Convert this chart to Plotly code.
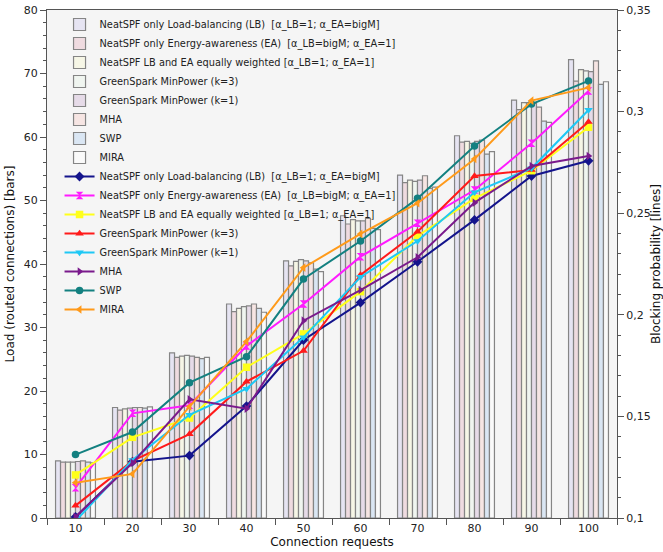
import plotly.graph_objects as go

categories = [10, 20, 30, 40, 50, 60, 70, 80, 90, 100]

names = [
    "NeatSPF only Load-balancing (LB)  [α_LB=1; α_EA=bigM]",
    "NeatSPF only Energy-awareness (EA)  [α_LB=bigM; α_EA=1]",
    "NeatSPF LB and EA equally weighted [α_LB=1; α_EA=1]",
    "GreenSpark MinPower (k=3)",
    "GreenSpark MinPower (k=1)",
    "MHA",
    "SWP",
    "MIRA",
]

# Load (routed connections) - bars, left axis
load_lb = [9.0, 17.4, 26.0, 33.7, 40.5, 47.6, 54.0, 60.2, 65.8, 72.2]
load_ea = [8.8, 17.0, 25.3, 32.5, 39.7, 46.3, 52.8, 59.2, 64.3, 68.8]
load_eq = [8.8, 17.2, 25.5, 33.0, 40.4, 47.0, 53.2, 59.3, 65.4, 70.6]
load_gs3 = [8.8, 17.3, 25.6, 33.3, 40.7, 46.8, 53.0, 59.0, 65.4, 70.4]
load_gs1 = [8.9, 17.4, 25.5, 33.4, 40.5, 46.8, 53.2, 59.3, 65.3, 70.3]
load_mha = [9.0, 17.4, 25.3, 33.7, 40.2, 47.2, 53.9, 59.5, 64.7, 72.0]
load_swp = [8.8, 17.3, 25.1, 33.0, 39.2, 45.6, 51.9, 57.3, 62.5, 68.3]
load_mira = [8.7, 17.5, 25.3, 32.4, 38.8, 45.4, 52.1, 57.7, 62.3, 68.7]

# Blocking probability - lines, right axis
block_lb = [0.1005, 0.1277, 0.1307, 0.1551, 0.1876, 0.2060, 0.2261, 0.2467, 0.2683, 0.2758]
block_ea = [0.1149, 0.1515, 0.1555, 0.1846, 0.2053, 0.2286, 0.2450, 0.2614, 0.2844, 0.3101]
block_eq = [0.1212, 0.1397, 0.1492, 0.1742, 0.1906, 0.2114, 0.2388, 0.2573, 0.2709, 0.2923]
block_gs3 = [0.1061, 0.1281, 0.1413, 0.1671, 0.1823, 0.2196, 0.2409, 0.2683, 0.2713, 0.2949]
block_gs1 = [0.0985, 0.1285, 0.1508, 0.1636, 0.1889, 0.2186, 0.2363, 0.2603, 0.2721, 0.3008]
block_mha = [0.1006, 0.1271, 0.1584, 0.1538, 0.1971, 0.2122, 0.2283, 0.2552, 0.2732, 0.2781]
block_swp = [0.1312, 0.1423, 0.1666, 0.1794, 0.2176, 0.2363, 0.2573, 0.2831, 0.3037, 0.3151]
block_mira = [0.1174, 0.1217, 0.1548, 0.1868, 0.2232, 0.2398, 0.2549, 0.2767, 0.3054, 0.3118]

left_ticks = [0, 10, 20, 30, 40, 50, 60, 70, 80]
right_tickvals = [0.1, 0.15, 0.2, 0.25, 0.3, 0.35]
right_ticktext = ["0,1", "0,15", "0,2", "0,25", "0,3", "0,35"]

loads = [load_lb, load_ea, load_eq, load_gs3, load_gs1, load_mha, load_swp, load_mira]
blocks = [block_lb, block_ea, block_eq, block_gs3, block_gs1, block_mha, block_swp, block_mira]

bar_colors = ["#e6e4f2", "#efdbe0", "#f6f6e6", "#f0f5f0", "#e6dbe8", "#f6e5e3", "#dae6f3", "#fafafa"]
line_colors = ["#14148c", "#ff1aff", "#ffff1a", "#ff1a1a", "#1ec8f5", "#7a1a8c", "#138080", "#ff9a1a"]
symbols = ["diamond", "hourglass", "square", "triangle-up", "triangle-down", "triangle-right", "circle", "triangle-left"]

FONT = "DejaVu Sans"

fig = go.Figure()
for nm, vals, col in zip(names, loads, bar_colors):
    fig.add_trace(go.Bar(
        x=categories, y=vals, name=nm,
        marker=dict(color=col, line=dict(color="#858585", width=1.2)),
        yaxis="y",
    ))
for nm, vals, col, sym in zip(names, blocks, line_colors, symbols):
    fig.add_trace(go.Scatter(
        x=categories, y=vals, name=nm, mode="lines+markers",
        line=dict(color=col, width=2),
        marker=dict(symbol=sym, size=7.5, color=col),
        yaxis="y2",
    ))

fig.update_layout(
    width=663, height=552,
    margin=dict(l=47, r=46, t=10, b=34, autoexpand=False),
    paper_bgcolor="white",
    plot_bgcolor="#f5f5f5",
    barmode="group",
    bargap=0.3,
    bargroupgap=0,
    font=dict(family=FONT, size=11, color="#222"),
    showlegend=True,
    legend=dict(
        x=0.022, y=1.0, xanchor="left", yanchor="top",
        bgcolor="rgba(0,0,0,0)",
        font=dict(family=FONT, size=9.8, color="#222"),
        tracegroupgap=0,
        itemwidth=30,
    ),
    xaxis=dict(
        range=[5, 105], tickvals=categories, ticktext=[str(c) for c in categories],
        ticks="", showgrid=False, zeroline=False,
        showline=True, linecolor="#555", linewidth=1, mirror=True,
        minor=dict(tick0=5, dtick=10, ticks="outside", ticklen=6, tickcolor="#555"),
        title=dict(text="Connection requests", font=dict(size=12, color="#111"), standoff=3),
        tickfont=dict(size=11, color="#222"),
        automargin=False,
    ),
    yaxis=dict(
        range=[0, 80], tickvals=left_ticks, ticks="outside", ticklen=6, tickcolor="#555",
        showgrid=False, zeroline=False, showline=True, linecolor="#555", linewidth=1,
        minor=dict(dtick=2, ticks="outside", ticklen=3, tickcolor="#555"),
        title=dict(text="Load (routed connections) [bars]", font=dict(size=12, color="#111"), standoff=6),
        tickfont=dict(size=11, color="#222"),
        automargin=False,
    ),
    yaxis2=dict(
        range=[0.1, 0.35], overlaying="y", side="right",
        tickvals=right_tickvals, ticktext=right_ticktext,
        ticks="outside", ticklen=6, tickcolor="#555",
        showgrid=False, zeroline=False, showline=True, linecolor="#555", linewidth=1,
        minor=dict(dtick=0.01, tick0=0.1, ticks="outside", ticklen=3, tickcolor="#555"),
        title=dict(text="Blocking probability [lines]", font=dict(size=12, color="#111"), standoff=0),
        tickfont=dict(size=11, color="#222"),
        automargin=False,
    ),
)

# remove the default 8px page margin so the figure fills the window exactly
fig.write_html(
    "out.html",
    config={"displayModeBar": False},
    post_script="document.body.style.margin='0px';",
)
